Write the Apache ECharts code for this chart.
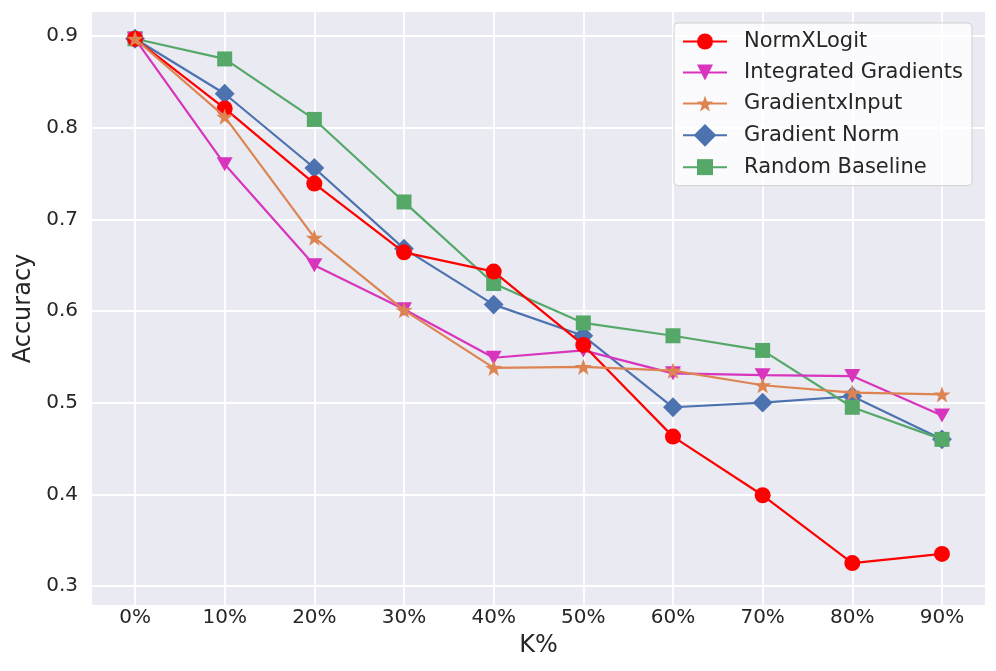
<!DOCTYPE html>
<html>
<head>
<meta charset="utf-8">
<script src="https://cdn.jsdelivr.net/npm/echarts@6/dist/echarts.min.js"></script>
<style>html,body{margin:0;padding:0;background:#fff}#c{width:996px;height:671px}</style>
</head>
<body>
<div id="c"></div>
<script>
const categories = ['0%','10%','20%','30%','40%','50%','60%','70%','80%','90%'];
const normXLogit = [0.897,0.821,0.739,0.664,0.643,0.563,0.463,0.399,0.325,0.335];
const integratedGradients = [0.897,0.760,0.650,0.602,0.549,0.557,0.532,0.530,0.529,0.486];
const gradientXInput = [0.897,0.812,0.680,0.601,0.538,0.539,0.535,0.519,0.511,0.509];
const gradientNorm = [0.897,0.837,0.756,0.668,0.607,0.573,0.495,0.500,0.507,0.460];
const randomBaseline = [0.897,0.875,0.809,0.719,0.630,0.587,0.573,0.557,0.495,0.460];
const yTicks = [0.3,0.4,0.5,0.6,0.7,0.8,0.9];

const xTickIdx = categories.map((c,i)=>i);
const toPts = arr => arr.map((v,i)=>[i,v]);
const star = 'path://M0,-10 L2.35,-3.24 9.51,-3.09 3.8,1.24 5.88,8.09 0,4 -5.88,8.09 -3.8,1.24 -9.51,-3.09 -2.35,-3.24 Z';
const txt = '#262626';
const font = 'DejaVu Sans';

const chart = echarts.init(document.getElementById('c'));
function mk(name, data, color, symbol, size, z, rot){
  return {name, type:'line', data: toPts(data), z,
    symbol, symbolSize:size, symbolRotate: rot||0, symbolKeepAspect:true,
    showAllSymbol:true,
    lineStyle:{color, width:2.2}, itemStyle:{color, opacity:1}, emphasis:{disabled:true}};
}
chart.setOption({
  animation:false,
  backgroundColor:'#ffffff',
  grid:{left:92,right:11,top:12,bottom:66,show:true,backgroundColor:'#EAEAF2',borderWidth:0},
  xAxis:{type:'value',min:-0.48,max:9.48,
    name:'K%',nameLocation:'middle',nameGap:29,
    nameTextStyle:{fontFamily:font,fontSize:24,color:txt},
    axisLine:{show:false},
    axisTick:{show:false,customValues:xTickIdx},
    axisLabel:{customValues:xTickIdx,formatter:v=>categories[Math.round(v)],fontFamily:font,fontSize:20,color:txt,margin:3},
    splitLine:{show:true,lineStyle:{color:'#ffffff',width:1.8}}
  },
  yAxis:{type:'value',min:0.2793,max:0.9262,
    name:'Accuracy',nameLocation:'middle',nameGap:56,
    nameTextStyle:{fontFamily:font,fontSize:24,color:txt},
    axisLine:{show:false},
    axisTick:{show:false,customValues:yTicks},
    axisLabel:{customValues:yTicks,formatter:v=>v.toFixed(1),fontFamily:font,fontSize:20,color:txt,margin:14},
    splitLine:{show:true,lineStyle:{color:'#ffffff',width:1.8}}
  },
  legend:{orient:'vertical',left:674,top:23,
    data:['NormXLogit','Integrated Gradients','GradientxInput','Gradient Norm','Random Baseline'],
    itemWidth:44,itemHeight:20,itemGap:10,
    padding:[8,9,8,8],
    backgroundColor:'rgba(255,255,255,0.8)',borderColor:'#d0d0d0',borderWidth:1,borderRadius:4,
    textStyle:{fontFamily:font,fontSize:21,lineHeight:21,color:txt,padding:[0,0,0,12]}
  },
  series:[
    mk('NormXLogit',normXLogit,'#FF0000','circle',16,5),
    mk('Integrated Gradients',integratedGradients,'#D834BE','triangle',[16,14],4,180),
    mk('GradientxInput',gradientXInput,'#DD8452',star,17,6),
    mk('Gradient Norm',gradientNorm,'#4C72B0','rect',14,2,45),
    mk('Random Baseline',randomBaseline,'#55A868','rect',15,3)
  ]
});
</script>
</body>
</html>
